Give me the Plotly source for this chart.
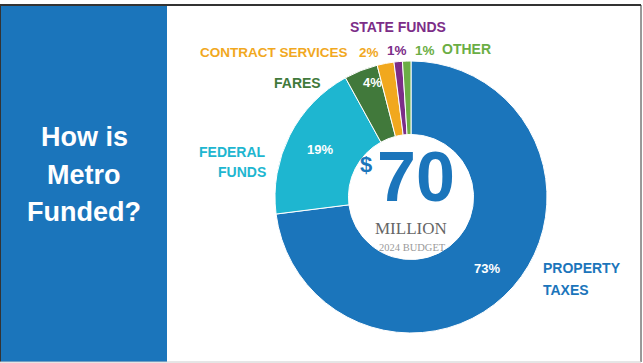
import plotly.graph_objects as go

W, H = 643, 363

categories = ["PROPERTY TAXES", "FEDERAL FUNDS", "FARES", "CONTRACT SERVICES", "STATE FUNDS", "OTHER"]
values = [73, 19, 4, 2, 1, 1]
colors = ["#1B75BB", "#1EB6D0", "#41793B", "#F1A81E", "#7C2D88", "#6BAE45"]
title_lines = ["How is", "Metro", "Funded?"]
total_amount = "70"
unit_label = "MILLION"
budget_label = "2024 BUDGET"

NARROW = "Liberation Sans Narrow, Arial Narrow, Liberation Sans, Arial, sans-serif"
SERIF = "Liberation Serif, Times New Roman, serif"


def px(x):
    return x / W


def py(y):
    return 1 - y / H


cx, cy, r = 411, 197, 136

fig = go.Figure(go.Pie(
    labels=categories,
    values=values,
    marker=dict(colors=colors, line=dict(color="white", width=1)),
    hole=0.46,
    sort=False,
    direction="clockwise",
    rotation=0,
    textinfo="none",
    hoverinfo="label+percent",
    showlegend=False,
    domain=dict(x=[px(cx - r), px(cx + r)], y=[py(cy + r), py(cy - r)]),
))

shapes = [
    dict(type="rect", xref="paper", yref="paper", x0=px(0), x1=px(167), y0=py(362), y1=py(5),
         fillcolor="#1B75BB", line=dict(width=0), layer="below"),
    dict(type="line", xref="paper", yref="paper", x0=0, x1=px(641), y0=py(5), y1=py(5),
         line=dict(color="#333333", width=2)),
    dict(type="line", xref="paper", yref="paper", x0=px(0.5), x1=px(0.5), y0=py(362), y1=py(5),
         line=dict(color="#333333", width=1)),
    dict(type="line", xref="paper", yref="paper", x0=px(641), x1=px(641), y0=py(362), y1=py(5),
         line=dict(color="#333333", width=1)),
    dict(type="line", xref="paper", yref="paper", x0=0, x1=px(641), y0=py(362), y1=py(362),
         line=dict(color="#CCCCCC", width=1)),
]

ann = []


def add(text, x, y, size, color, xanchor="center", family=NARROW, bold=True):
    t = f"<b>{text}</b>" if bold else text
    ann.append(dict(text=t, x=px(x), y=py(y), xref="paper", yref="paper", showarrow=False,
                    xanchor=xanchor, yanchor="middle",
                    font=dict(family=family, size=size, color=color)))


# left title
for i, line in enumerate(title_lines):
    add(line, 84, 137 + i * 37.5, 27, "white")

# category labels
add("PROPERTY", 541, 268, 14, colors[0], "left")
add("TAXES", 541, 290, 14, colors[0], "left")
add("FEDERAL", 268, 152, 14, colors[1], "right")
add("FUNDS", 268, 172, 14, colors[1], "right")
add(categories[2], 297, 83, 14, colors[2])
add(categories[3], 350, 52, 13.5, colors[3], "right")
add(categories[4], 398, 27, 14, colors[4])
add(categories[5], 440, 49, 14, colors[5], "left")

# percentages
pct = [f"{v}%" for v in values]
add(pct[0], 487, 268, 13, "white")
add(pct[1], 320, 150, 13, "white")
add(pct[2], 372, 83, 13, "white")
add(pct[3], 369, 52, 13.5, colors[3])
add(pct[4], 397, 50, 13.5, colors[4])
add(pct[5], 425, 50, 13.5, colors[5])

# center
add(total_amount, 416, 177, 70, "#1B75BB")
add("$", 366, 164, 22, "#1B75BB")
add(unit_label, 411, 228, 17, "#666666", family=SERIF, bold=False)
add(budget_label, 412, 247, 10.5, "#9A9A9A", family=SERIF, bold=False)

fig.update_layout(
    width=W, height=H,
    margin=dict(l=0, r=0, t=0, b=0),
    paper_bgcolor="white",
    plot_bgcolor="white",
    shapes=shapes,
    annotations=ann,
)

fig.write_html("out.html", config={"displayModeBar": False},
               post_script="document.body.style.margin='0';document.body.style.overflow='hidden';")
